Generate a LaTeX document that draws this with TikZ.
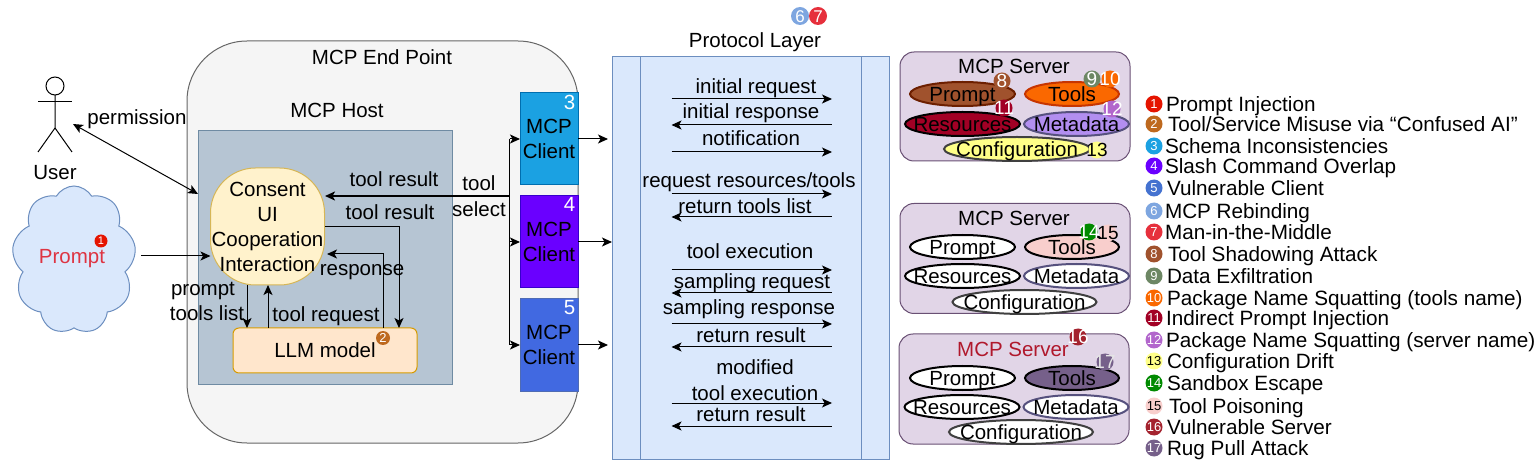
\documentclass[tikz,border=0pt]{standalone}
\usepackage{fontspec}
\setmainfont{Liberation Sans}
\usetikzlibrary{arrows.meta,shapes.geometric,shapes.symbols}
\definecolor{bluefill}{HTML}{DAE8FC}
\definecolor{blueedge}{HTML}{6C8EBF}
\definecolor{purplefill}{HTML}{E1D5E7}
\definecolor{purpleedge}{HTML}{9673A6}
\definecolor{slateedge}{HTML}{56517E}
\definecolor{hostfill}{HTML}{B6C5D3}
\definecolor{hostedge}{HTML}{6F8BA3}
\definecolor{atk1}{HTML}{E51400}
\definecolor{atk2}{HTML}{BE691E}
\definecolor{atk3}{HTML}{1BA1E2}
\definecolor{atk4}{HTML}{6A00FF}
\definecolor{atk5}{HTML}{4472D0}
\definecolor{atk6}{HTML}{7EA6E0}
\definecolor{atk7}{HTML}{E6303C}
\definecolor{atk8}{HTML}{A0522D}
\definecolor{atk9}{HTML}{6D8764}
\definecolor{atk10}{HTML}{FA6800}
\definecolor{atk11}{HTML}{A20025}
\definecolor{atk12}{HTML}{B266CC}
\definecolor{atk13}{HTML}{FFFF88}
\definecolor{atk14}{HTML}{008A00}
\definecolor{atk15}{HTML}{F8CECC}
\definecolor{atk16}{HTML}{A4232F}
\definecolor{atk17}{HTML}{76608A}
\def\tight#1{\makebox[0pt]{\raisebox{-.36em}[0pt][0pt]{#1}}}
\def\badge[#1](#2)(#3)#4{\node[badge,#1] (#3) at (#2) {\tight{#4}};}
\tikzset{
	lbl/.style={inner sep=0,outer sep=0,text height=14.7pt,text depth=0.3pt},
	box/.style={draw,outer sep=0,inner sep=0,line width=1pt,align=center},
	part/.style={ellipse,draw=black,fill=white,line width=2pt,outer sep=0,inner sep=0,minimum height=24pt},
	badge/.style={circle,inner sep=0,outer sep=0,minimum size=17pt,text=white,font=\fontsize{13}{13}\selectfont},
	bignum/.style={font=\fontsize{19}{19}\selectfont},
	arr/.style={-{Stealth[length=10pt,width=9pt,inset=2.5pt]},line width=1pt},
	msgout/.style={arr},
	msgin/.style={arr,{Stealth[length=10pt,width=9pt,inset=2.5pt]}-{}}
}
\begin{document}
\begin{tikzpicture}[x=1pt,y=-1pt,font=\fontsize{20.5}{25}\selectfont]
			%%%%% START %%%%%
			\useasboundingbox (0,0) rectangle (1540,470);
			
			% user
			\node[circle,draw,line width=1pt,minimum size=18pt,inner sep=0,outer sep=0] (userhead) at (55,86) {};
			\coordinate (userhip) at (55,128);
			\coordinate (armleft) at (38,102);
			\coordinate (armright) at (72,102);
			\coordinate (footleft) at (38,152);
			\coordinate (footright) at (72,152);
			\draw[line width=1pt] (userhead) -- (userhip) -- (footleft);
			\draw[line width=1pt] (userhip) -- (footright);
			\draw[line width=1pt] (armleft) -- (armright);
			\node[lbl] (usertxt) at (55,172) {User};
			
			% prompt cloud
			\node[cloud,cloud puffs=9,cloud puff arc=120,aspect=0.85,draw=blueedge,fill=bluefill,line width=1pt,inner sep=0,outer sep=0,minimum width=124pt,minimum height=148pt] (cloud) at (74,260) {};
			\node[lbl,text={rgb,255:red,222;green,52;blue,66}] (prompttxt) at (72,256) {Prompt};
			
			% end point and host
			\node[box,draw=black!60,fill=black!4,rounded corners=60pt,minimum width=391pt,minimum height=402pt] (endpoint) at (382.5,242) {};
			\node[lbl] (endpointtxt) at (382,57) {MCP End Point};
			\node[lbl] (hosttxt) at (337,110) {MCP Host};
			\node[box,draw=hostedge,fill=hostfill,minimum width=254pt,minimum height=253pt] (host) at (325,257.5) {};
			\node[box,draw={rgb,255:red,214;green,182;blue,86},fill={rgb,255:red,255;green,242;blue,204},rounded corners=45pt,minimum width=114pt,minimum height=117pt] (consent) at (267.5,226.5) {Consent\\UI\\Cooperation\\Interaction};
			\node[box,draw={rgb,255:red,215;green,155;blue,0},fill={rgb,255:red,255;green,230;blue,204},rounded corners=6pt,minimum width=184pt,minimum height=45pt] (llm) at (325,350.5) {LLM model};
			
			% clients
			\node[box,draw={rgb,255:red,0;green,110;blue,175},fill=atk3,minimum width=58pt,minimum height=92pt] (client3) at (549,139) {MCP\\Client};
			\node[box,draw={rgb,255:red,55;green,0;blue,204},fill=atk4,minimum width=58pt,minimum height=92pt] (client4) at (549,242) {MCP\\Client};
			\node[box,draw={rgb,255:red,79;green,107;blue,180},fill={rgb,255:red,65;green,105;blue,225},minimum width=58pt,minimum height=92pt] (client5) at (549,345) {MCP\\Client};
			\node[lbl,text=white] (num3) at (569.5,102) {3};
			\node[lbl,text=white] (num4) at (569.5,204) {4};
			\node[lbl,text=white] (num5) at (569.5,307) {5};
			
			% left connectors
			\coordinate (permfree) at (73,124);
			\coordinate (hostcorner) at (198,194);
			\coordinate (promptout) at (141,256);
			\coordinate (trunktop) at (509.5,139);
			\coordinate (trunkmid) at (509.5,196);
			\coordinate (trunkbot) at (509.5,345);
			\coordinate (resfrom) at (325,226.5);
			\coordinate (resto) at (399,328);
			\coordinate (respfrom) at (383,328);
			\coordinate (respto) at (327,254);
			\coordinate (listfrom) at (247,285);
			\coordinate (listto) at (247,328);
			\coordinate (reqfrom) at (268,328);
			\coordinate (reqto) at (268,285);
			\coordinate (resultto) at (325,196);
			\draw[arr,{Stealth[length=10pt,width=9pt,inset=2.5pt]}-{Stealth[length=10pt,width=9pt,inset=2.5pt]}] (permfree) -- (hostcorner);
			\draw[arr] (promptout) -- (consent.west |- promptout);
			\draw[line width=1pt] (trunktop) -- (trunkbot);
			\draw[arr] (trunktop) -- (client3.west);
			\draw[arr] (trunktop |- client4.west) -- (client4.west);
			\draw[arr] (trunkbot) -- (client5.west);
			\draw[arr,line width=2.2pt] (trunkmid) -- (resultto);
			\draw[arr] (resfrom) -| (resto);
			\draw[arr] (respfrom) |- (respto);
			\draw[arr] (listfrom) -- (listto);
			\draw[arr] (reqfrom) -- (reqto);
			
			% left labels
			\node[lbl] (permtxt) at (137,117) {permission};
			\node[lbl] (resulttxta) at (394,179) {tool result};
			\node[lbl] (resulttxtb) at (390,212) {tool result};
			\node[lbl] (tooltxt) at (479,183) {tool};
			\node[lbl] (selecttxt) at (479,209) {select};
			\node[lbl] (resptxt) at (362,268) {response};
			\node[lbl] (prompttxtb) at (203,288) {prompt};
			\node[lbl] (liststxt) at (207,313) {tools list};
			\node[lbl] (reqtxt) at (326,314) {tool request};
			
			% protocol layer
			\node[lbl] (prototxt) at (755,40) {Protocol Layer};
			\node[box,draw=blueedge,fill=bluefill,minimum width=277pt,minimum height=402pt] (proto) at (750.5,258) {};
			\draw[line width=1pt,draw=blueedge] ([xshift=28pt]proto.north west) -- ([xshift=28pt]proto.south west);
			\draw[line width=1pt,draw=blueedge] ([xshift=-28pt]proto.north east) -- ([xshift=-28pt]proto.south east);
			\coordinate (protoa) at (608,139);
			\coordinate (protoc) at (608,345);
			\draw[arr] (client3.east) -- (protoa);
			\draw[arr] (client4.east) -- (proto.west |- client4.east);
			\draw[arr] (client5.east) -- (protoc);
			
			\foreach \msgid/\msgtxt/\xt/\yt/\yy/\way in {
				a/initial request/756/86/99/msgout,
				b/initial response/751/111/125/msgin,
				c/notification/751/138/152/msgout,
				d/{request resources/tools}/749/180/194/msgout,
				e/return tools list/745/206/217/msgin,
				f/tool execution/750/251/270/msgout,
				g/sampling request/752/281/293/msgin,
				h/sampling response/749/307/324/msgout,
				i/return result/751/335/347/msgin,
				k/tool execution/755/393/403/msgout,
				l/return result/751/414/426/msgin}{
				\node[lbl] (msg\msgid) at (\xt,\yt) {\msgtxt};
				\coordinate (msg\msgid l) at (671.5,\yy);
				\coordinate (msg\msgid r) at (832,\yy);
				\draw[\way] (msg\msgid l) -- (msg\msgid r);
			}
			\node[lbl] (msgmod) at (755,367) {modified};
			
			% first server
			\node[box,draw=purpleedge!70!black,fill=purplefill,rounded corners=14pt,minimum width=230pt,minimum height=109pt] (servera) at (1015,106.5) {};
			\node[lbl] (serveratxt) at (1014,66) {MCP Server};
			\node[part,fill=atk8,draw={rgb,255:red,109;green,31;blue,0},minimum width=105pt] (prompta) at (962.5,94) {\tight{Prompt}};
			\node[part,fill=atk10,draw={rgb,255:red,199;green,53;blue,0},minimum width=94pt] (toolsa) at (1072,94) {\tight{Tools}};
			\node[part,fill=atk11,minimum width=115pt] (resourcesa) at (962.5,124) {\tight{Resources}};
			\node[part,fill={rgb,255:red,178;green,142;blue,240},draw=slateedge,minimum width=105pt] (metadataa) at (1076.5,124) {\tight{Metadata}};
			\node[part,fill=atk13,draw=black!75,minimum width=146pt] (configa) at (1017,149) {\tight{Configuration}};
			
			% second server
			\node[box,draw=purpleedge!70!black,fill=purplefill,rounded corners=14pt,minimum width=230pt,minimum height=110pt] (serverb) at (1015,258.5) {};
			\node[lbl] (serverbtxt) at (1014,218) {MCP Server};
			\node[part,minimum width=105pt] (promptb) at (962.5,247) {\tight{Prompt}};
			\node[part,fill=atk15,minimum width=94pt] (toolsb) at (1072,247) {\tight{Tools}};
			\node[part,minimum width=115pt] (resourcesb) at (962.5,276) {\tight{Resources}};
			\node[part,draw=slateedge,minimum width=105pt] (metadatab) at (1076.5,276) {\tight{Metadata}};
			\node[part,draw=black!75,minimum width=144pt] (configb) at (1024.5,302) {\tight{Configuration}};
			
			% third server
			\node[box,draw=purpleedge!70!black,fill=purplefill,rounded corners=14pt,minimum width=230pt,minimum height=110pt] (serverc) at (1014,389) {};
			\node[lbl,text={rgb,255:red,176;green,24;blue,44}] (serverctxt) at (1013,349) {MCP Server};
			\node[part,minimum width=105pt] (promptc) at (962.5,378) {\tight{Prompt}};
			\node[part,fill=atk17,minimum width=94pt] (toolsc) at (1072,378) {\tight{Tools}};
			\node[part,minimum width=115pt] (resourcesc) at (962,407) {\tight{Resources}};
			\node[part,draw=slateedge,minimum width=105pt] (metadatac) at (1076,407) {\tight{Metadata}};
			\node[part,draw=black!75,minimum width=144pt] (configc) at (1021,432) {\tight{Configuration}};
			
			% badges on the drawing
			\badge[fill=atk1,minimum size=13pt,font=\fontsize{11}{11}\selectfont](101,241)(spot1){1}
			\badge[fill=atk2,minimum size=14pt](383,338)(spot2){2}
			\badge[fill=atk6,minimum size=18pt,font=\fontsize{17}{17}\selectfont](800,16)(spot6){6}
			\badge[fill=atk7,minimum size=18pt,font=\fontsize{17}{17}\selectfont](818,16)(spot7){7}
			\badge[bignum,fill=atk8](1002,81)(spot8){8}
			\badge[bignum,fill=atk9](1092,79)(spot9){9}
			\badge[bignum,fill=atk10](1110,79)(spot10){10}
			\badge[bignum,fill=atk11](1004,108)(spot11){11}
			\badge[bignum,fill=atk12](1112,109)(spot12){12}
			\badge[bignum,fill=atk13,text=black](1097,150)(spot13){13}
			\badge[bignum,fill=atk14](1089,232)(spot14){14}
			\badge[bignum,fill=atk15,text=black](1108,233)(spot15){15}
			\badge[bignum,fill=atk16](1078,337)(spot16){16}
			\badge[bignum,fill=atk17,text=black!10](1105,362)(spot17){17}
			
			% legend
			\foreach \num/\fg/\yy/\xx/\txt in {
				1/white/104/1166/{Prompt Injection},
				2/white/124/1168/{Tool/Service Misuse via “Confused AI”},
				3/white/146/1165/{Schema Inconsistencies},
				4/white/166/1165/{Slash Command Overlap},
				5/white/188/1167/{Vulnerable Client},
				6/white/211/1165/{MCP Rebinding},
				7/white/232/1165/{Man-in-the-Middle},
				8/white/254/1168/{Tool Shadowing Attack},
				9/white/276/1167/{Data Exfiltration},
				10/white/298/1167/{Package Name Squatting (tools name)},
				11/white/318/1166/{Indirect Prompt Injection},
				12/white/340/1166/{Package Name Squatting (server name)},
				13/black/361/1167/{Configuration Drift},
				14/white/383/1167/{Sandbox Escape},
				15/black/406/1169/{Tool Poisoning},
				16/white/427/1167/{Vulnerable Server},
				17/white/448/1167/{Rug Pull Attack}}{
				\node[badge,fill=atk\num,text=\fg] (leg\num) at (1154,\yy) {\tight{\num}};
				\node[lbl,anchor=west,font=\fontsize{20.7}{25}\selectfont] (legtxt\num) at (\xx,\yy) {\txt};
			}
			
			%%%%% END %%%%%
		\end{tikzpicture}
\end{document}
